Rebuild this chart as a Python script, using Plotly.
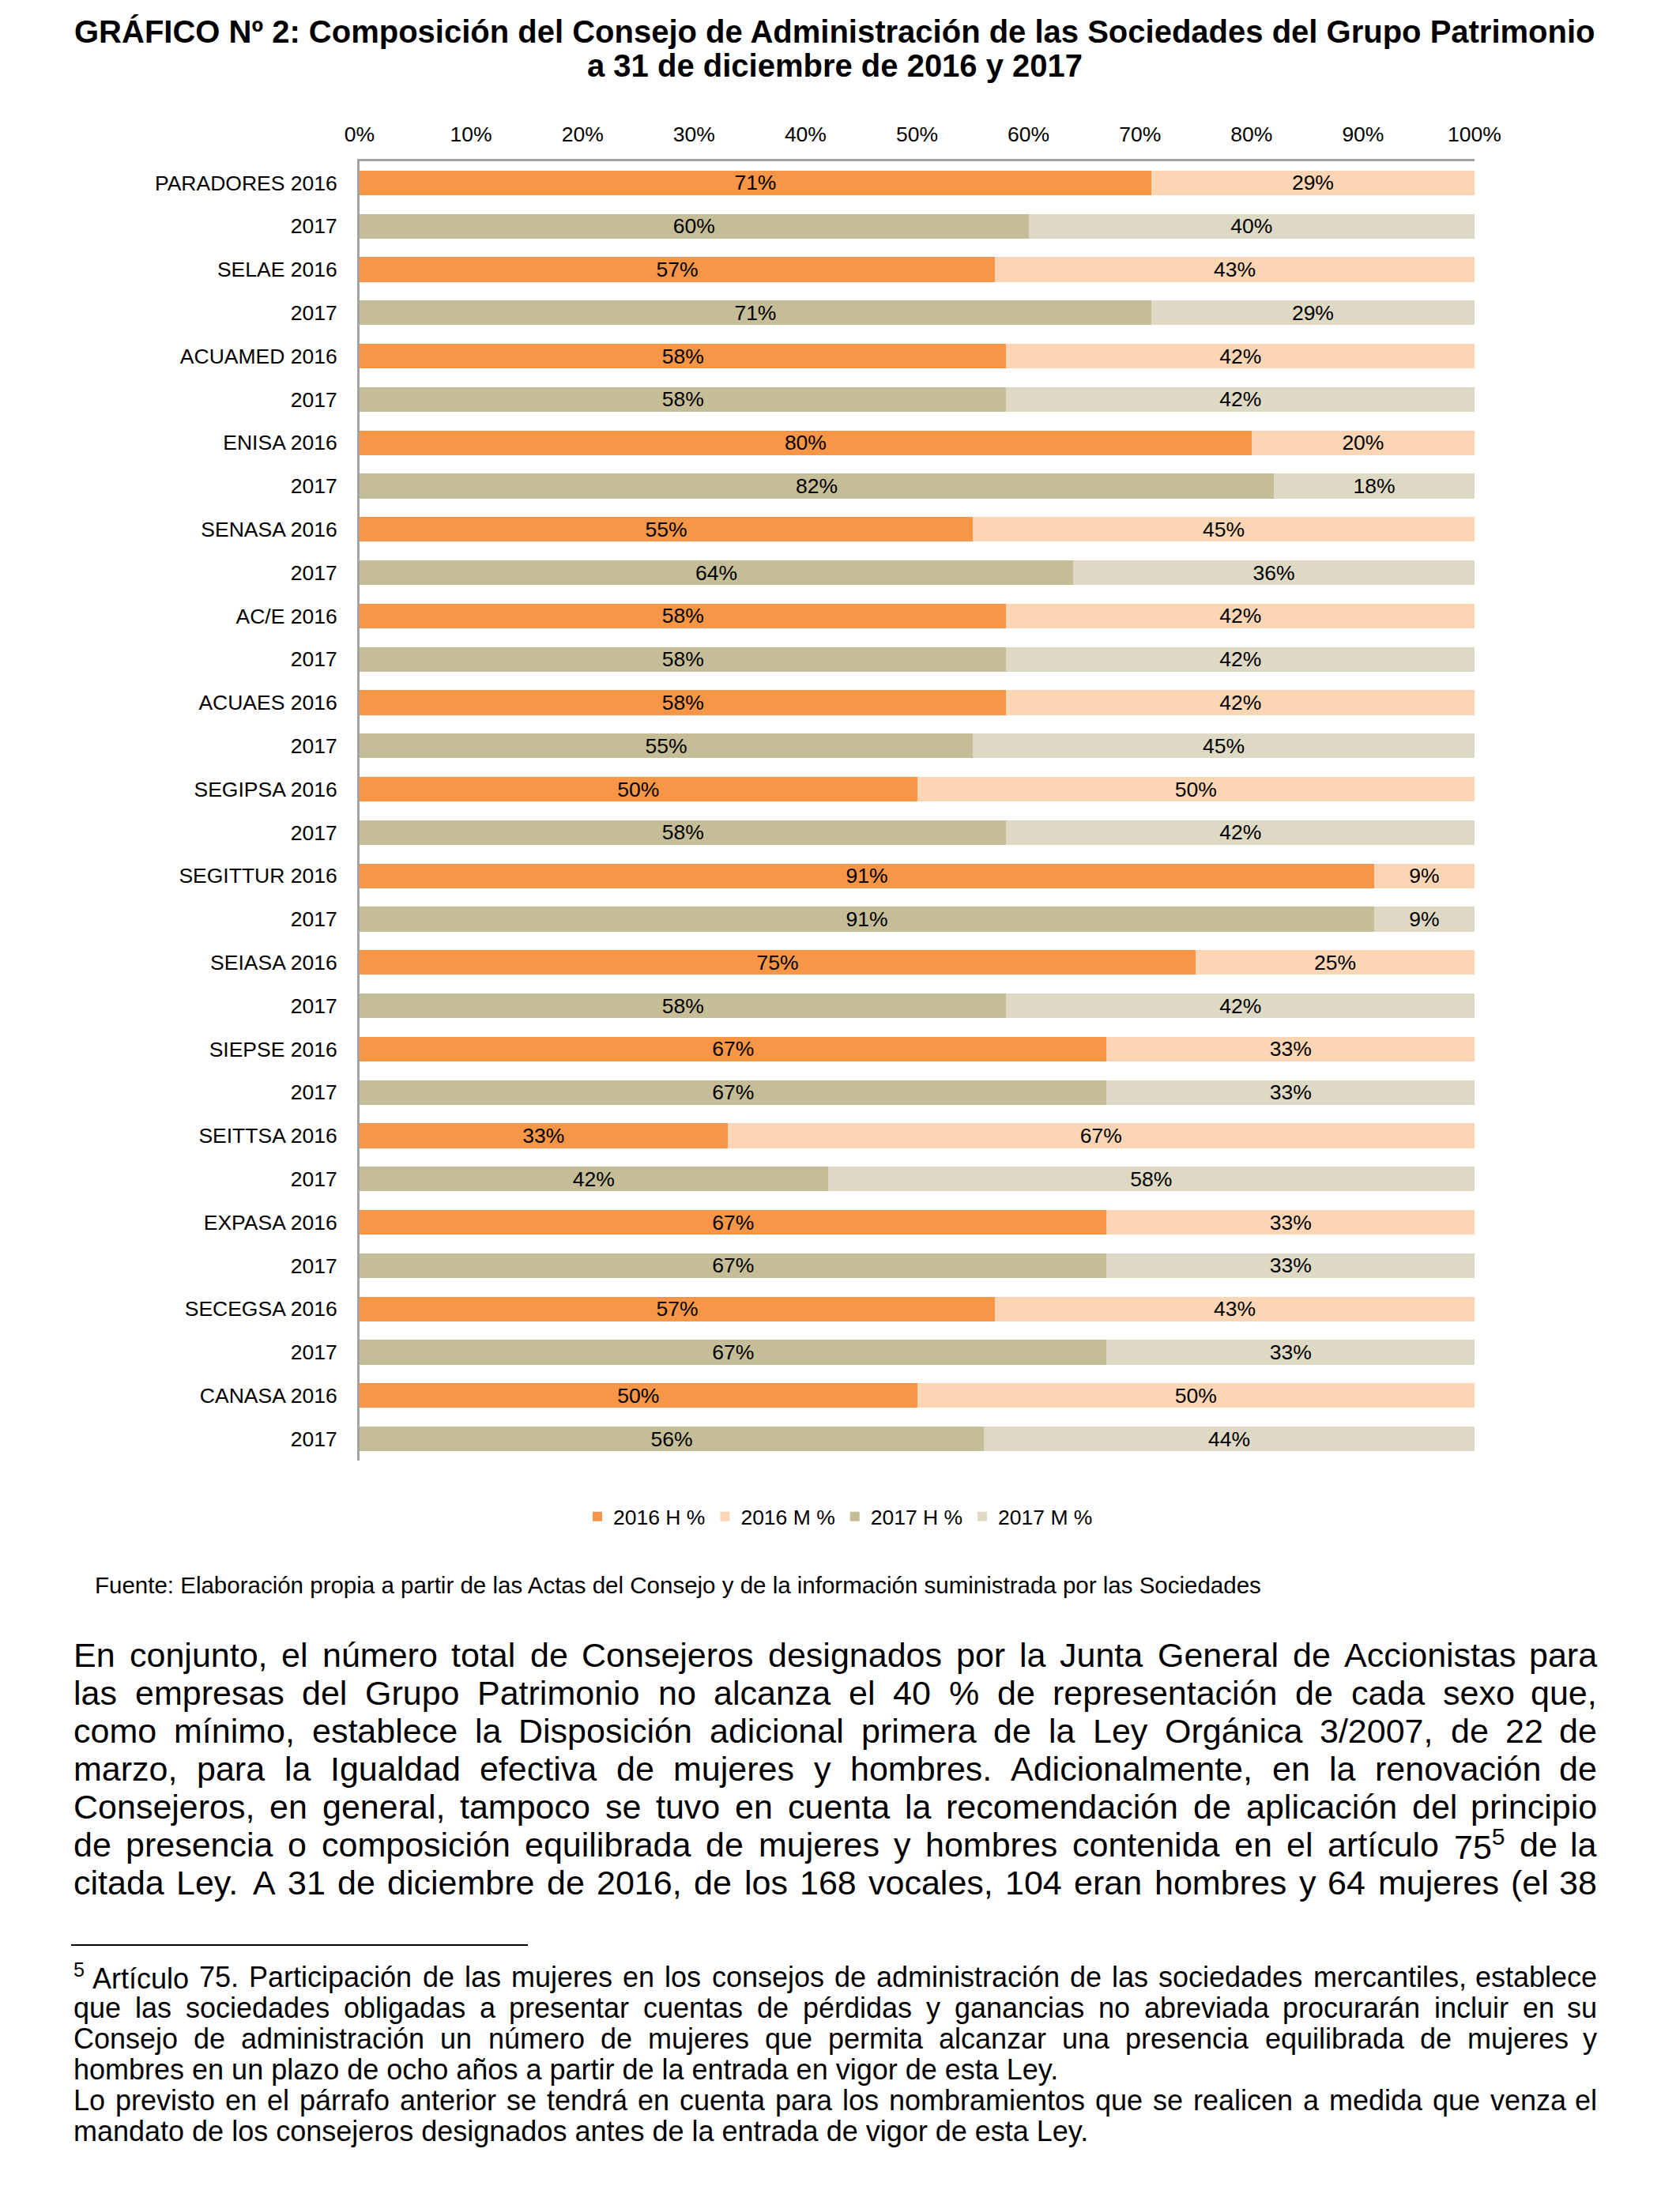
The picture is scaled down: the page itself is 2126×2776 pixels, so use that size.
import re
import plotly.graph_objects as go

# ---------------- data ----------------
companies = ["PARADORES", "SELAE", "ACUAMED", "ENISA", "SENASA", "AC/E", "ACUAES",
             "SEGIPSA", "SEGITTUR", "SEIASA", "SIEPSE", "SEITTSA", "EXPASA",
             "SECEGSA", "CANASA"]
h_2016 = [71, 57, 58, 80, 55, 58, 58, 50, 91, 75, 67, 33, 67, 57, 50]
m_2016 = [29, 43, 42, 20, 45, 42, 42, 50, 9, 25, 33, 67, 33, 43, 50]
h_2017 = [60, 71, 58, 82, 64, 58, 55, 58, 91, 58, 67, 42, 67, 67, 56]
m_2017 = [40, 29, 42, 18, 36, 42, 45, 42, 9, 42, 33, 58, 33, 33, 44]
series_names = ["2016 H %", "2016 M %", "2017 H %", "2017 M %"]
tick_values = [0, 10, 20, 30, 40, 50, 60, 70, 80, 90, 100]
tick_labels = ["0%", "10%", "20%", "30%", "40%", "50%", "60%", "70%", "80%", "90%", "100%"]

title_lines = [
    "GRÁFICO Nº 2: Composición del Consejo de Administración de las Sociedades del Grupo Patrimonio",
    "a 31 de diciembre de 2016 y 2017",
]
source_note = ("Fuente: Elaboración propia a partir de las Actas del Consejo y de la "
               "información suministrada por las Sociedades")
body_lines = [
    "En conjunto, el número total de Consejeros designados por la Junta General de Accionistas para",
    "las empresas del Grupo Patrimonio no alcanza el 40 % de representación de cada sexo que,",
    "como mínimo, establece la Disposición adicional primera de la Ley Orgánica 3/2007, de 22 de",
    "marzo, para la Igualdad efectiva de mujeres y hombres. Adicionalmente, en la renovación de",
    "Consejeros, en general, tampoco se tuvo en cuenta la recomendación de aplicación del principio",
    "de presencia o composición equilibrada de mujeres y hombres contenida en el artículo 75<sup>5</sup> de la",
    "citada Ley. A 31 de diciembre de 2016, de los 168 vocales, 104 eran hombres y 64 mujeres (el 38",
]
body_justify = [True, True, True, True, True, True, True]
footnote_lines = [
    "<sup>5</sup>\u00a0Artículo 75. Participación de las mujeres en los consejos de administración de las sociedades mercantiles, establece",
    "que las sociedades obligadas a presentar cuentas de pérdidas y ganancias no abreviada procurarán incluir en su",
    "Consejo de administración un número de mujeres que permita alcanzar una presencia equilibrada de mujeres y",
    "hombres en un plazo de ocho años a partir de la entrada en vigor de esta Ley.",
    "Lo previsto en el párrafo anterior se tendrá en cuenta para los nombramientos que se realicen a medida que venza el",
    "mandato de los consejeros designados antes de la entrada de vigor de esta Ley.",
]
footnote_justify = [True, True, True, False, True, False]

# ---------------- styles ----------------
FONT = "Liberation Sans, Arial, sans-serif"
COLORS = ["#F79646", "#FCD5B5", "#C4BD97", "#DDD9C4"]
AXIS_COLOR = "#A3A3A3"
W, H = 2126, 2776
PL, PR, PT, PB = 455, 1866, 204, 1848      # plot area in pixels
TEXT_L, TEXT_R = 92, 2022                  # text block edges in pixels


def px_x(px):
    return (px - PL) / (PR - PL)


def px_y(py):
    return (PB - py) / (PB - PT)


# Arial / Helvetica advance widths (1/1000 em)
CHAR_W = {" ": 278, "\u00a0": 278, "!": 278, "%": 889, "(": 333, ")": 333, ",": 278,
          "-": 333, ".": 278, "/": 278, ":": 278, ";": 278, "º": 365}
for d in "0123456789":
    CHAR_W[d] = 556
for ch, w in zip("ABCDEFGHIJKLMNOPQRSTUVWXYZ",
                 [667, 667, 722, 722, 667, 611, 778, 722, 278, 500, 667, 556, 833,
                  722, 778, 667, 778, 722, 667, 611, 722, 667, 944, 667, 667, 611]):
    CHAR_W[ch] = w
for ch, w in zip("abcdefghijklmnopqrstuvwxyz",
                 [556, 556, 500, 556, 556, 278, 556, 556, 222, 222, 500, 222, 833,
                  556, 556, 556, 556, 333, 500, 278, 556, 500, 722, 500, 500, 500]):
    CHAR_W[ch] = w
for acc, base in zip("áéíóúñÁÉÍÓÚ", "aeXounAEIOU"):
    CHAR_W[acc] = 278 if base == "X" else CHAR_W[base]


def em_width(word):
    total, scale = 0.0, 1.0
    for part in re.split(r"(<sup>|</sup>)", word):
        if part == "<sup>":
            scale = 0.7
            continue
        if part == "</sup>":
            scale = 1.0
            continue
        for ch in part:
            total += CHAR_W.get(ch, 556) * scale
    return total / 1000.0


annotations = []


def add_text_block(lines, justify, y_first, dy, size):
    for k, line in enumerate(lines):
        yk = px_y(y_first + k * dy)
        base = dict(xref="paper", yref="paper", y=yk, yanchor="middle", showarrow=False,
                    borderpad=0, font=dict(family=FONT, size=size, color="black"))
        if not justify[k]:
            annotations.append(dict(base, x=px_x(TEXT_L), xanchor="left", text=line))
            continue
        words = line.split(" ")
        widths = [em_width(w) * size for w in words]
        gap = (TEXT_R - TEXT_L - sum(widths)) / (len(words) - 1)
        x = TEXT_L
        for j, w in enumerate(words):
            if j == len(words) - 1:
                annotations.append(dict(base, x=px_x(TEXT_R), xanchor="right", text=w))
            else:
                annotations.append(dict(base, x=px_x(x), xanchor="left", text=w))
            x += widths[j] + gap


# ---------------- figure ----------------
row_labels = []
for c in companies:
    row_labels += [f"{c} 2016", "2017"]
rows_2016 = [2 * i for i in range(len(companies))]
rows_2017 = [2 * i + 1 for i in range(len(companies))]

fig = go.Figure()
for name, vals, rows, color in zip(series_names, [h_2016, m_2016, h_2017, m_2017],
                                   [rows_2016, rows_2016, rows_2017, rows_2017], COLORS):
    fig.add_trace(go.Bar(
        x=vals, y=rows, orientation="h", name=name, width=0.57,
        marker=dict(color=color, line=dict(width=0)),
        text=[f"{v}%" for v in vals], texttemplate="%{text}",
        textposition="inside", insidetextanchor="middle",
        textangle=0, constraintext="none",
        textfont=dict(family=FONT, size=26.5, color="black"),
        hoverinfo="skip",
    ))

# title
for k, t in enumerate(title_lines):
    annotations.append(dict(xref="paper", yref="paper", x=px_x(1056), xanchor="center",
                            y=px_y(40 + 43 * k), yanchor="middle", showarrow=False,
                            text=f"<b>{t}</b>",
                            font=dict(family=FONT, size=40, color="black")))
# source
annotations.append(dict(xref="paper", yref="paper", x=px_x(119), xanchor="left",
                        y=px_y(2005), yanchor="middle", showarrow=False, borderpad=0,
                        text=source_note, font=dict(family=FONT, size=29.5, color="black")))
# body paragraph & footnote
add_text_block(body_lines, body_justify, 2094, 48, 43)
add_text_block(footnote_lines, footnote_justify, 2501, 39, 36)

fig.update_layout(
    width=W, height=H, autosize=False,
    margin=dict(l=PL, r=W - PR, t=PT, b=H - PB, pad=0),
    paper_bgcolor="white", plot_bgcolor="white",
    font=dict(family=FONT, size=26.5, color="black"),
    barmode="stack",
    showlegend=True,
    legend=dict(orientation="h", x=px_x(1062), xanchor="center", y=px_y(1919),
                yanchor="middle", font=dict(family=FONT, size=26.5, color="black"),
                itemwidth=30, bgcolor="rgba(0,0,0,0)", traceorder="normal"),
    xaxis=dict(range=[0, 100], side="top", tickvals=tick_values, ticktext=tick_labels,
               showgrid=False, zeroline=False, showline=True, linecolor=AXIS_COLOR,
               linewidth=3, ticks="", ticklabelstandoff=11,
               tickfont=dict(family=FONT, size=26.5, color="black"), fixedrange=True),
    yaxis=dict(range=[len(row_labels) - 0.5, -0.5], tickvals=list(range(len(row_labels))),
               ticktext=row_labels, showgrid=False, zeroline=False, showline=True,
               linecolor=AXIS_COLOR, linewidth=3, ticks="", ticklabelstandoff=20,
               tickfont=dict(family=FONT, size=26.5, color="black"), fixedrange=True),
    annotations=annotations,
    shapes=[dict(type="line", xref="paper", yref="paper", x0=px_x(90), x1=px_x(668),
                 y0=px_y(2461), y1=px_y(2461), line=dict(color="black", width=2))],
)

fig.write_html("out.html", config={"displayModeBar": False},
               post_script="document.body.style.margin='0px';")
